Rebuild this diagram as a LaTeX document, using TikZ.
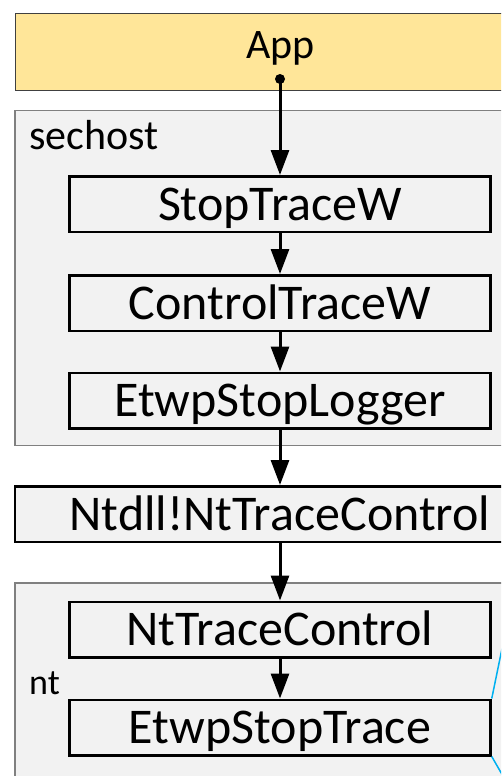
\documentclass[tikz,border=0pt]{standalone}
\usepackage{fontspec}
\setmainfont{Carlito}
\usetikzlibrary{arrows.meta}
\definecolor{appyellow}{HTML}{FFE699}
\definecolor{dllgray}{HTML}{F2F2F2}
\definecolor{zoomblue}{HTML}{00B0F0}

\begin{document}
\begin{tikzpicture}[x=1pt,y=-1pt,
  dllbox/.style={draw=black!50,line width=1.5pt,fill=dllgray,minimum width=530pt,inner sep=0pt},
  dllname/.style={anchor=base west,inner sep=0pt,font=\fontsize{42}{50}\selectfont},
  fnbox/.style={draw,line width=2.5pt,fill=dllgray,minimum width=421pt,minimum height=55.5pt,inner sep=0pt,
    text height=32pt,text depth=0pt,font=\fontsize{50}{60}\selectfont},
  calls/.style={line width=3pt,-{Triangle[length=25pt,width=18pt]}}]
\useasboundingbox (0,0) rectangle (501,776);
\clip (0,0) rectangle (501,776);

\node[dllbox,fill=appyellow,draw=black!75,line width=1pt,minimum height=77pt,
  text height=27pt,text depth=13pt,font=\fontsize{42}{50}\selectfont] (app) at (280.5,52) {App};
\node[circle,fill,inner sep=0pt,minimum size=10pt] (appdot) at (280,79) {};

\node[dllbox,minimum height=335pt] (sechost) at (280,278) {};
\node[dllname] (sechostname) at (29,149) {sechost};
\node[fnbox] (stop) at (280,204) {StopTraceW};
\node[fnbox] (ctrl) at (280,303) {ControlTraceW};
\node[fnbox] (logger) at (280,400.5) {EtwpStopLogger};

\node[fnbox,minimum width=530pt] (ntdll) at (280,514) {Ntdll!NtTraceControl};

\node[dllbox,minimum height=247pt] (nt) at (280,706.5) {};
\node[dllname,font=\fontsize{36}{42}\selectfont] (ntname) at (29,694) {nt};
\node[fnbox] (ntctrl) at (280,629.5) {NtTraceControl};
\node[fnbox] (etwstop) at (280,727.5) {EtwpStopTrace};

\draw[calls] (appdot.center) -- (stop);
\draw[calls] (stop) -- (ctrl);
\draw[calls] (ctrl) -- (logger);
\draw[calls] (logger) -- (ntdll);
\draw[calls] (ntdll) -- (ntctrl);
\draw[calls] (ntctrl) -- (etwstop);

% zoom lines to the right
\coordinate (zoomtop) at (512,600);
\coordinate (zoombot) at (515,797);
\draw[zoomblue,line width=1.5pt] (etwstop.north east) -- (zoomtop);
\draw[zoomblue,line width=1.5pt] (etwstop.south east) -- (zoombot);
\end{tikzpicture}
\end{document}
